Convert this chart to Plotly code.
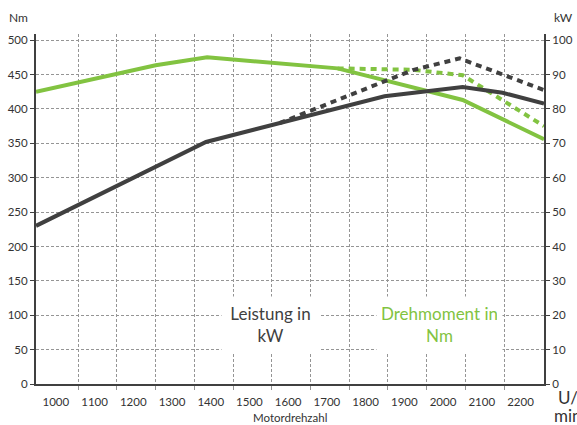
import plotly.graph_objects as go

# ---- data ----
rpm_labels = [1000, 1100, 1200, 1300, 1400, 1500, 1600, 1700, 1800, 1900, 2000, 2100, 2200]
rpm_grid = [1050, 1150, 1250, 1350, 1450, 1550, 1650, 1750, 1850, 1950, 2050, 2150]
nm_ticks = [0, 50, 100, 150, 200, 250, 300, 350, 400, 450, 500]
kw_ticks = [0, 10, 20, 30, 40, 50, 60, 70, 80, 90, 100]

rpm_torque = [941, 1250, 1383, 1720, 2043, 2253]
torque_nm = [425, 463.5, 475, 459, 413, 356]

rpm_torque_alt = [1720, 1914, 2043, 2253]
torque_alt_nm = [459, 457, 449, 375]

rpm_power = [941, 1380, 1841, 2043, 2146, 2253]
power_kw = [46.0, 70.4, 83.7, 86.4, 84.7, 81.6]

rpm_power_alt = [1570, 1914, 2035, 2253]
power_alt_kw = [75.9, 91.3, 94.7, 85.5]

GREEN = "#82c341"
DARK = "#404040"
GRID = "#959595"
TXT = "#333333"
FONT = "Lato"

fig = go.Figure()
fig.add_trace(go.Scatter(x=rpm_power_alt, y=power_alt_kw, yaxis="y2", mode="lines",
                         line=dict(color=DARK, width=4, dash="6px,5px"), hoverinfo="skip"))
fig.add_trace(go.Scatter(x=rpm_torque_alt, y=torque_alt_nm, mode="lines",
                         line=dict(color=GREEN, width=4, dash="6px,5px"), hoverinfo="skip"))
fig.add_trace(go.Scatter(x=rpm_power, y=power_kw, yaxis="y2", mode="lines",
                         line=dict(color=DARK, width=4), hoverinfo="skip"))
fig.add_trace(go.Scatter(x=rpm_torque, y=torque_nm, mode="lines",
                         line=dict(color=GREEN, width=4), hoverinfo="skip"))

fig.update_layout(
    template="none",
    width=577, height=425,
    margin=dict(l=36, r=33, t=34, b=41, autoexpand=False),
    paper_bgcolor="white", plot_bgcolor="white",
    showlegend=False,
    font=dict(family=FONT, color=TXT, size=12),
    xaxis=dict(
        range=[941, 2253], tickvals=rpm_labels, ticktext=[str(v) for v in rpm_labels],
        ticks="", showgrid=False, zeroline=False, automargin=False,
        showline=True, linecolor=DARK, linewidth=2,
        tickfont=dict(family=FONT, size=11.5, color=TXT),
        ticklabelshift=-3, ticklabelstandoff=6,
        minor=dict(tickvals=rpm_grid, showgrid=True, gridcolor=GRID, griddash="3px,2px",
                   gridwidth=1, ticks="outside", ticklen=4, tickcolor=GRID),
    ),
    yaxis=dict(
        range=[0, 509], tickvals=nm_ticks, showgrid=True, gridcolor=GRID,
        griddash="3px,2px", gridwidth=1, zeroline=False, automargin=False,
        showline=True, linecolor=DARK, linewidth=2,
        ticks="outside", ticklen=4, tickcolor=DARK,
        tickfont=dict(family=FONT, size=11.5, color=TXT),
    ),
    yaxis2=dict(
        range=[0, 101.8], tickvals=kw_ticks, overlaying="y", side="right",
        showgrid=False, zeroline=False, automargin=False,
        showline=True, linecolor=DARK, linewidth=2,
        ticks="outside", ticklen=4, tickcolor=DARK,
        tickfont=dict(family=FONT, size=11.5, color=TXT),
    ),
)

ann = [
    dict(text="Leistung in<br>kW", x=0.4613, y=0.17, font=dict(size=17, color=DARK),
         bgcolor="white", width=87, height=45, borderpad=5),
    dict(text="Drehmoment in<br>Nm", x=0.7938, y=0.17, font=dict(size=17, color=GREEN),
         bgcolor="white", width=115, height=45, borderpad=5),
    dict(text="Nm", x=-0.0348, y=1.047, font=dict(size=12, color=TXT)),
    dict(text="kW", x=1.0388, y=1.047, font=dict(size=12, color=TXT)),
    dict(text="U/", x=1.023, y=-0.038, xanchor="left", font=dict(size=17, color=TXT)),
    dict(text="min", x=1.0165, y=-0.09, xanchor="left", font=dict(size=17, color=TXT)),
    dict(text="Motordrehzahl", x=0.5, y=-0.097, font=dict(size=11.5, color=TXT)),
]
for a in ann:
    base = dict(xref="paper", yref="paper", showarrow=False, align="center")
    if "xanchor" not in a:
        base["xanchor"] = "center"
    base["yanchor"] = "middle"
    base.update(a)
    fig.add_annotation(**base)

fig.write_html("out.html", config={"displayModeBar": False},
               post_script="document.body.style.margin='0';")
